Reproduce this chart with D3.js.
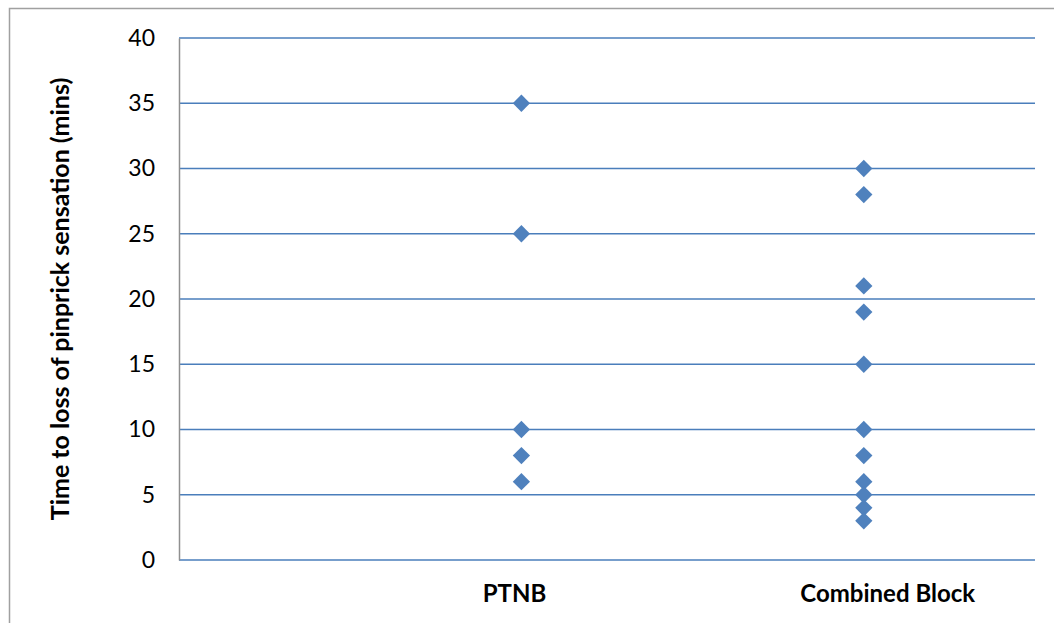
<!DOCTYPE html>
<html><head><meta charset="utf-8">
<script src="https://cdn.jsdelivr.net/npm/d3@7"></script>
<style>body{margin:0;background:#fff}svg{display:block}</style>
</head><body>
<svg id="c" width="1054" height="623"></svg>
<script>
const categories = ["PTNB", "Combined Block"];
const ptnbValues = [35, 25, 10, 8, 6];
const combinedValues = [30, 28, 21, 19, 15, 10, 8, 6, 5, 4, 3];
const yTicks = [0, 5, 10, 15, 20, 25, 30, 35, 40];
const yTitle = "Time to loss of pinprick sensation (mins)";

const svg = d3.select("#c");
const font = "Lato, 'Open Sans', sans-serif";
// outer border
svg.append("rect").attr("x", 9.5).attr("y", 8.5).attr("width", 1100).attr("height", 700)
  .attr("fill", "none").attr("stroke", "#a0a0a0").attr("stroke-width", 1.5);

const L = 179, R = 1035, T = 38, B = 560;
const x = d3.scaleLinear().domain([0, 2.5]).range([L, R]);
const y = d3.scaleLinear().domain([0, 40]).range([B, T]);

// gridlines
svg.append("g").selectAll("line").data(yTicks).join("line")
  .attr("x1", L).attr("x2", R).attr("y1", d => y(d)).attr("y2", d => y(d))
  .attr("stroke", "#4a7ebb").attr("stroke-width", 1.5);

// y axis
const yAxis = d3.axisLeft(y).tickValues(yTicks).tickSize(0).tickPadding(24);
const gy = svg.append("g").attr("transform", `translate(${L},0)`).call(yAxis);
gy.select(".domain").attr("stroke", "#909090").attr("stroke-width", 1.5);
gy.selectAll("text").attr("font-family", font).attr("font-size", 23).attr("fill", "#000");

// category labels (text boxes placed slightly off the marker columns, as in the original)
const labelPos = [0.98, 2.07];
svg.append("g").selectAll("text").data(categories).join("text")
  .attr("x", (d, i) => x(labelPos[i])).attr("y", 602).attr("text-anchor", "middle")
  .attr("font-family", font).attr("font-weight", "bold").attr("font-size", 24).text(d => d);

// y title
svg.append("text").attr("transform", `translate(69,${(T + B) / 2}) rotate(-90)`)
  .attr("text-anchor", "middle").attr("font-family", font).attr("font-weight", "bold")
  .attr("font-size", 25).text(yTitle);

const sym = d3.symbol().type(d3.symbolDiamond2).size(190);
const series = [ptnbValues, combinedValues];
series.forEach((vals, i) => {
  svg.append("g").selectAll("path").data(vals).join("path")
    .attr("d", sym).attr("transform", d => `translate(${x(i + 1)},${y(d)})`)
    .attr("fill", "#4f81bd");
});
</script>
</body></html>
